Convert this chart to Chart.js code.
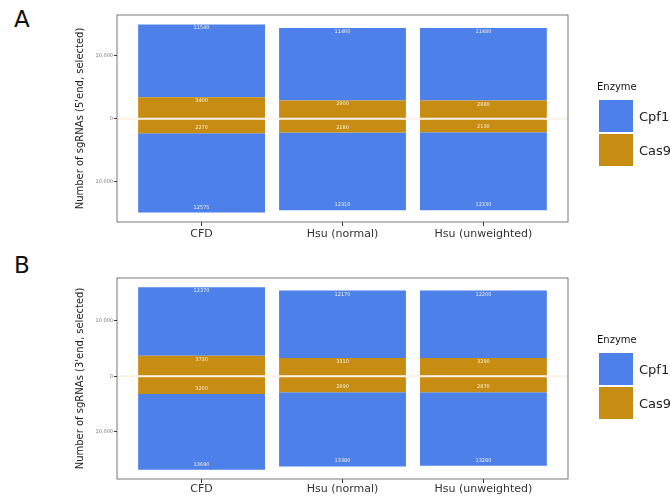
<!DOCTYPE html>
<html>
<head>
<meta charset="utf-8">
<script src="https://cdn.jsdelivr.net/npm/chart.js@4/dist/chart.umd.min.js"></script>
<style>
  body { margin: 0; background: #fff; font-family: 'DejaVu Sans', sans-serif; }
  #page { position: relative; width: 670px; height: 498px; overflow: hidden; }
  canvas { position: absolute; left: 0; }
  .letter { position: absolute; left: 14px; font-size: 23px; color: #111; line-height: 1; }
  .legend { position: absolute; left: 597px; color: #222; }
  .legend .title { font-size: 10px; margin: 0 0 7px 0; color: #111; }
  .legend .row { display: flex; align-items: center; height: 34px; margin-left: 2px; }
  .legend .sw { width: 34px; height: 32px; margin-right: 6px; }
  .legend .lab { font-size: 13px; }
</style>
</head>
<body>
<div id="page">
  <div class="letter" style="top:8px">A</div>
  <div class="letter" style="top:254px">B</div>
  <canvas id="chart-a" width="670" height="249" style="top:0"></canvas>
  <canvas id="chart-b" width="670" height="249" style="top:249px"></canvas>
  <div class="legend" style="top:81px">
    <div class="title">Enzyme</div>
    <div class="row"><div class="sw" style="background:#4d80e9"></div><span class="lab">Cpf1</span></div>
    <div class="row"><div class="sw" style="background:#c78d12"></div><span class="lab">Cas9</span></div>
  </div>
  <div class="legend" style="top:334px">
    <div class="title">Enzyme</div>
    <div class="row"><div class="sw" style="background:#4d80e9"></div><span class="lab">Cpf1</span></div>
    <div class="row"><div class="sw" style="background:#c78d12"></div><span class="lab">Cas9</span></div>
  </div>
</div>
<script>
const CATEGORIES = ['CFD', 'Hsu (normal)', 'Hsu (unweighted)']
const Y_TICKS = [-10000, 0, 10000]

// panel A (5' end), counts per segment, drawn outward from zero
const cpf1Up5 = [11540, 11460, 11480]
const cas9Up5 = [3400, 2900, 2880]
const cas9Down5 = [2270, 2180, 2130]
const cpf1Down5 = [12575, 12310, 12330]

// panel B (3' end)
const cpf1Up3 = [12370, 12170, 12200]
const cas9Up3 = [3730, 3310, 3290]
const cas9Down3 = [3200, 2890, 2870]
const cpf1Down3 = [13690, 13380, 13280]

const BLUE = '#4d80e9'
const ORANGE = '#c78d12'

const panelPlugin = {
  id: 'panel',
  afterDatasetsDraw(chart) {
    const { ctx, chartArea, scales } = chart
    const y0 = scales.y.getPixelForValue(0)
    ctx.save()
    ctx.strokeStyle = '#fdf1e6'
    ctx.lineWidth = 2
    ctx.beginPath()
    ctx.moveTo(chartArea.left, y0)
    ctx.lineTo(chartArea.right, y0)
    ctx.stroke()

    // segment counts at the outer end of each segment
    ctx.font = '5px "DejaVu Sans"'
    ctx.fillStyle = '#f3f0d8'
    ctx.textAlign = 'center'
    chart.data.datasets.forEach((ds, di) => {
      const meta = chart.getDatasetMeta(di)
      meta.data.forEach((bar, i) => {
        const up = ds.data[i].y > 0
        const y = up ? bar.y + 5 : bar.y - 4
        ctx.fillText(String(Math.abs(ds.data[i].y)), bar.x, y)
      })
    })

    ctx.strokeStyle = '#555'
    ctx.lineWidth = 0.8
    ctx.strokeRect(chartArea.left, chartArea.top, chartArea.right - chartArea.left, chartArea.bottom - chartArea.top)
    ctx.restore()
  },
}

const toPoints = (values, sign) => values.map((v, i) => ({ x: i + 1, y: sign * v }))

const makeChart = (id, title, cpf1Up, cas9Up, cas9Down, cpf1Down, top, bottom, tickGap) => {
  const hi = Math.max(...cpf1Up.map((v, i) => v + cas9Up[i]))
  const lo = -Math.max(...cpf1Down.map((v, i) => v + cas9Down[i]))
  const pad = (hi - lo) * 0.05

  return new Chart(document.getElementById(id), {
    type: 'bar',
    data: {
      datasets: [
        { label: 'Cas9', data: toPoints(cas9Up, 1), backgroundColor: ORANGE },
        { label: 'Cpf1', data: toPoints(cpf1Up, 1), backgroundColor: BLUE },
        { label: 'Cas9', data: toPoints(cas9Down, -1), backgroundColor: ORANGE },
        { label: 'Cpf1', data: toPoints(cpf1Down, -1), backgroundColor: BLUE },
      ],
    },
    options: {
      responsive: false,
      animation: false,
      layout: { padding: { top: top, right: 102, left: 0, bottom: 0 } },
      datasets: { bar: { barPercentage: 0.9, categoryPercentage: 1, borderWidth: 0 } },
      plugins: { legend: { display: false }, tooltip: { enabled: false } },
      scales: {
        x: {
          type: 'linear',
          stacked: true,
          min: 0.4,
          max: 3.6,
          offset: false,
          afterBuildTicks: (scale) => {
            scale.ticks = CATEGORIES.map((c, i) => ({ value: i + 1 }))
          },
          afterFit: (scale) => {
            scale.height = bottom
          },
          ticks: {
            callback: (v) => CATEGORIES[v - 1],
            color: '#333',
            font: { family: 'DejaVu Sans', size: 11 },
            padding: tickGap,
            maxRotation: 0,
          },
          grid: { offset: false, drawOnChartArea: false, tickLength: 4, tickColor: '#333', tickWidth: 1 },
          border: { display: false },
        },
        y: {
          stacked: true,
          min: lo - pad,
          max: hi + pad,
          afterBuildTicks: (scale) => {
            scale.ticks = Y_TICKS.map((v) => ({ value: v }))
          },
          afterFit: (scale) => {
            scale.width = 117
          },
          ticks: {
            callback: (v) => Math.abs(v).toLocaleString('en-US'),
            color: '#777',
            font: { family: 'DejaVu Sans', size: 5 },
            padding: 1,
          },
          grid: { drawOnChartArea: false, tickLength: 3, tickColor: '#333', tickWidth: 1 },
          border: { display: false },
          title: {
            display: true,
            text: title,
            color: '#222',
            font: { family: 'DejaVu Sans', size: 10 },
            padding: { top: 74, bottom: 0 },
          },
        },
      },
    },
    plugins: [panelPlugin],
  })
}

makeChart('chart-a', "Number of sgRNAs (5'end, selected)", cpf1Up5, cas9Up5, cas9Down5, cpf1Down5, 15, 27, 2)
makeChart('chart-b', "Number of sgRNAs (3'end, selected)", cpf1Up3, cas9Up3, cas9Down3, cpf1Down3, 29, 19, 0)
</script>
</body>
</html>
